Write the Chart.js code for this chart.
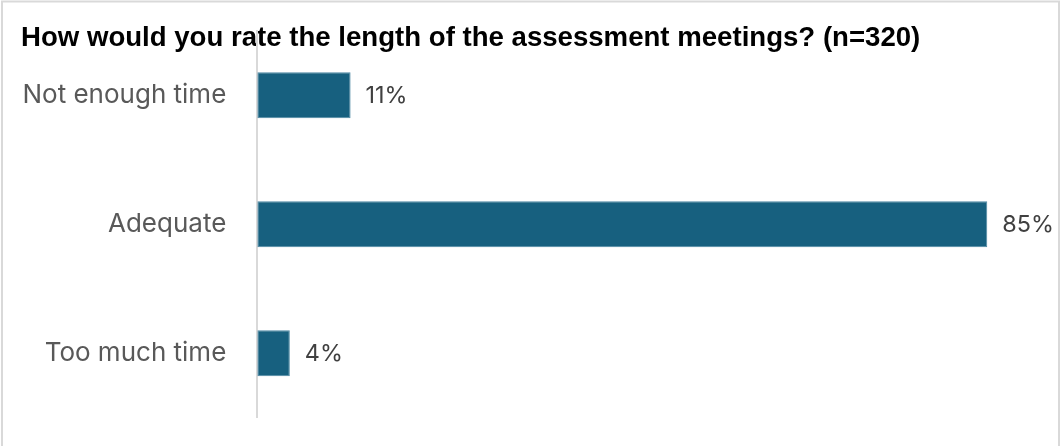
<!DOCTYPE html>
<html>
<head>
<meta charset="utf-8">
<script src="https://cdn.jsdelivr.net/npm/chart.js@4.4.1/dist/chart.umd.min.js"></script>
<style>
  html, body { margin: 0; padding: 0; background: #ffffff; }
  #wrap { width: 1060px; height: 446px; }
</style>
</head>
<body>
<div id="wrap"><canvas id="c" width="1060" height="446"></canvas></div>
<script>
// ---- data ----
const titleText = "How would you rate the length of the assessment meetings? (n=320)";
const categories = ["Not enough time", "Adequate", "Too much time"];
const percentValues = [10.9, 85.3, 3.8];
const axisMin = 0;
const axisMax = 90;

// ---- font fitting helpers ----
function fitSize(text, family, weight, targetWidth) {
  const ctx = document.createElement('canvas').getContext('2d');
  ctx.font = weight + ' 100px ' + family;
  const w = ctx.measureText(text).width;
  return Math.round(100 * targetWidth / w * 10) / 10;
}
const titleFamily = '"Liberation Sans", Arial, sans-serif';
const labelFamily = 'Inter, "DejaVu Sans", sans-serif';
const titleSize = fitSize(titleText, titleFamily, 'bold', 901);
const catSize = fitSize("Not enough time", labelFamily, 'normal', 204);
const valSize = Math.round(catSize * 0.9 * 10) / 10;

const titleLH = 1.2;
const titleCenterY = 38.4;
const areaTop = 30.8;
const padTop = titleCenterY - titleSize * titleLH / 2;
const padBottom = areaTop - padTop - titleSize * titleLH;

const borderPlugin = {
  id: 'frame',
  beforeDraw(chart) {
    const ctx = chart.ctx;
    ctx.save();
    ctx.fillStyle = '#ffffff';
    ctx.fillRect(0, 0, chart.width, chart.height);
    ctx.restore();
  },
  afterDraw(chart) {
    const ctx = chart.ctx;
    ctx.save();
    ctx.strokeStyle = '#d9d9d9';
    ctx.lineWidth = 2;
    ctx.beginPath();
    ctx.moveTo(2, 452);
    ctx.lineTo(2, 1.5);
    ctx.lineTo(1059, 1.5);
    ctx.lineTo(1059, 452);
    ctx.stroke();
    ctx.restore();
  }
};

const valueLabels = {
  id: 'valueLabels',
  afterDatasetsDraw(chart) {
    const ctx = chart.ctx;
    const meta = chart.getDatasetMeta(0);
    ctx.save();
    ctx.font = valSize + 'px ' + labelFamily;
    ctx.fillStyle = '#404040';
    ctx.textAlign = 'left';
    ctx.textBaseline = 'middle';
    meta.data.forEach((bar, i) => {
      const v = chart.data.datasets[0].data[i];
      ctx.fillText(Math.round(v) + '%', bar.x + 15, bar.y + 1);
    });
    ctx.restore();
  }
};

new Chart(document.getElementById('c'), {
  type: 'bar',
  data: {
    labels: categories,
    datasets: [{
      data: percentValues,
      backgroundColor: '#17607f',
      borderColor: '#4d87a3',
      borderWidth: 1,
      borderSkipped: false,
      barPercentage: 0.357,
      categoryPercentage: 1.0
    }]
  },
  options: {
    indexAxis: 'y',
    responsive: false,
    animation: false,
    events: [],
    layout: { padding: { left: 21, right: 32.5, top: 0, bottom: 28.3 } },
    plugins: {
      legend: { display: false },
      tooltip: { enabled: false },
      title: {
        display: true,
        text: titleText,
        align: 'start',
        color: '#000000',
        font: { family: titleFamily, weight: 'bold', size: titleSize, lineHeight: titleLH },
        padding: { top: padTop, bottom: padBottom }
      }
    },
    scales: {
      x: {
        display: false,
        min: axisMin,
        max: axisMax
      },
      y: {
        grid: { display: false, drawTicks: false },
        border: { display: true, color: '#d9d9d9', width: 2 },
        ticks: {
          color: '#595959',
          padding: 31,
          font: { family: labelFamily, size: catSize }
        },
        afterFit(scale) {
          scale.width = 257.3 - 21;
          scale.paddingTop = 0;
          scale.paddingBottom = 0;
        }
      }
    }
  },
  plugins: [borderPlugin, valueLabels]
});
</script>
</body>
</html>
